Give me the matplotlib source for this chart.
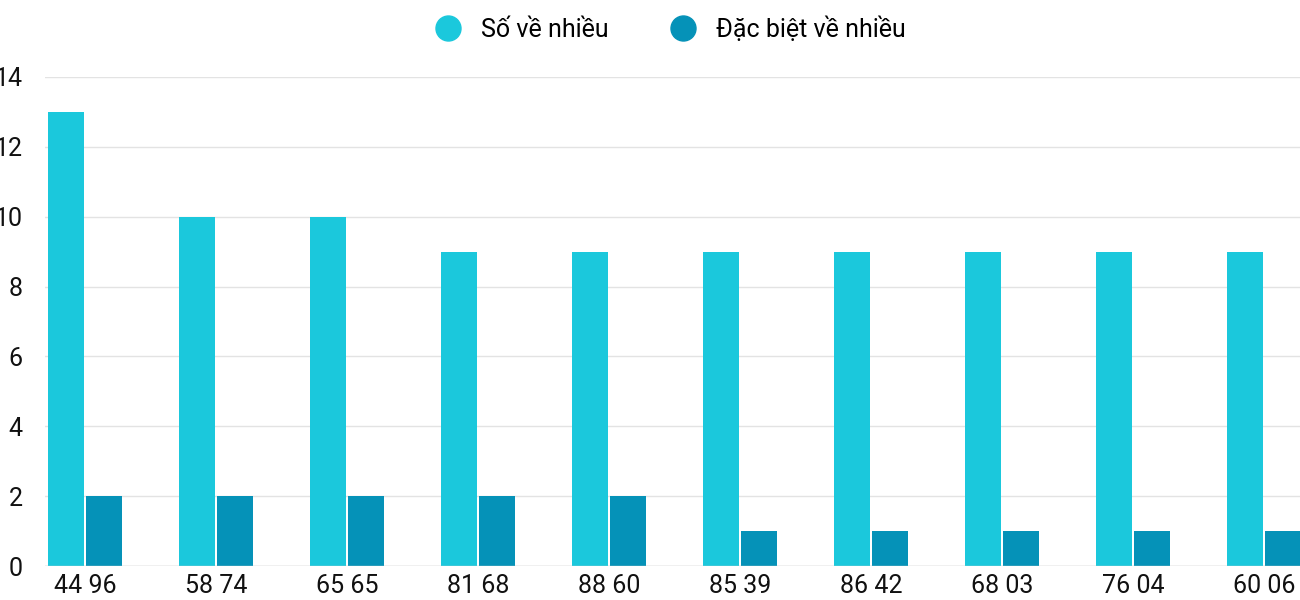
import matplotlib
matplotlib.use("Agg")
import matplotlib.pyplot as plt
import numpy as np
from matplotlib.lines import Line2D

plt.rcParams['font.family'] = ['Roboto', 'DejaVu Sans']

labels = ["44 96", "58 74", "65 65", "81 68", "88 60", "85 39", "86 42", "68 03", "76 04", "60 06"]
so_ve = [13, 10, 10, 9, 9, 9, 9, 9, 9, 9]
dac_biet = [2, 2, 2, 2, 2, 1, 1, 1, 1, 1]
c1, c2 = "#1bc8dc", "#0592b8"

fig = plt.figure(figsize=(13, 6), dpi=100)
ax = fig.add_axes([45/1300, 34/600, 1255/1300, 489/600])
x = np.arange(len(labels))
w = 0.272
ax.bar(x - 0.145, so_ve, w, color=c1, zorder=3)
ax.bar(x + 0.145, dac_biet, w, color=c2, zorder=3)
ax.set_xlim(-0.305, 9.275)
ax.set_ylim(0, 14)
ax.set_yticks(range(0, 15, 2))
ax.set_xticks(x)
ax.set_xticklabels(labels)
ax.tick_params(axis='both', length=0, labelsize=18, colors="#111111")
ax.tick_params(axis='y', pad=16)
ax.tick_params(axis='x', pad=6)
ax.grid(axis='y', color="#e3e3e3", linewidth=1, zorder=0)
for s in ax.spines.values():
    s.set_visible(False)
ax.axhline(0, color="#cccccc", linewidth=1, zorder=4)

handles = [Line2D([], [], marker='o', linestyle='', markersize=18, color=c1),
           Line2D([], [], marker='o', linestyle='', markersize=18, color=c2)]
fig.legend(handles, ["Số về nhiều", "Đặc biệt về nhiều"], loc='center', bbox_to_anchor=(0.511, 0.952),
           ncol=2, frameon=False, fontsize=18, handletextpad=0.3, columnspacing=2.0)
fig.savefig("out.png", dpi=100)
